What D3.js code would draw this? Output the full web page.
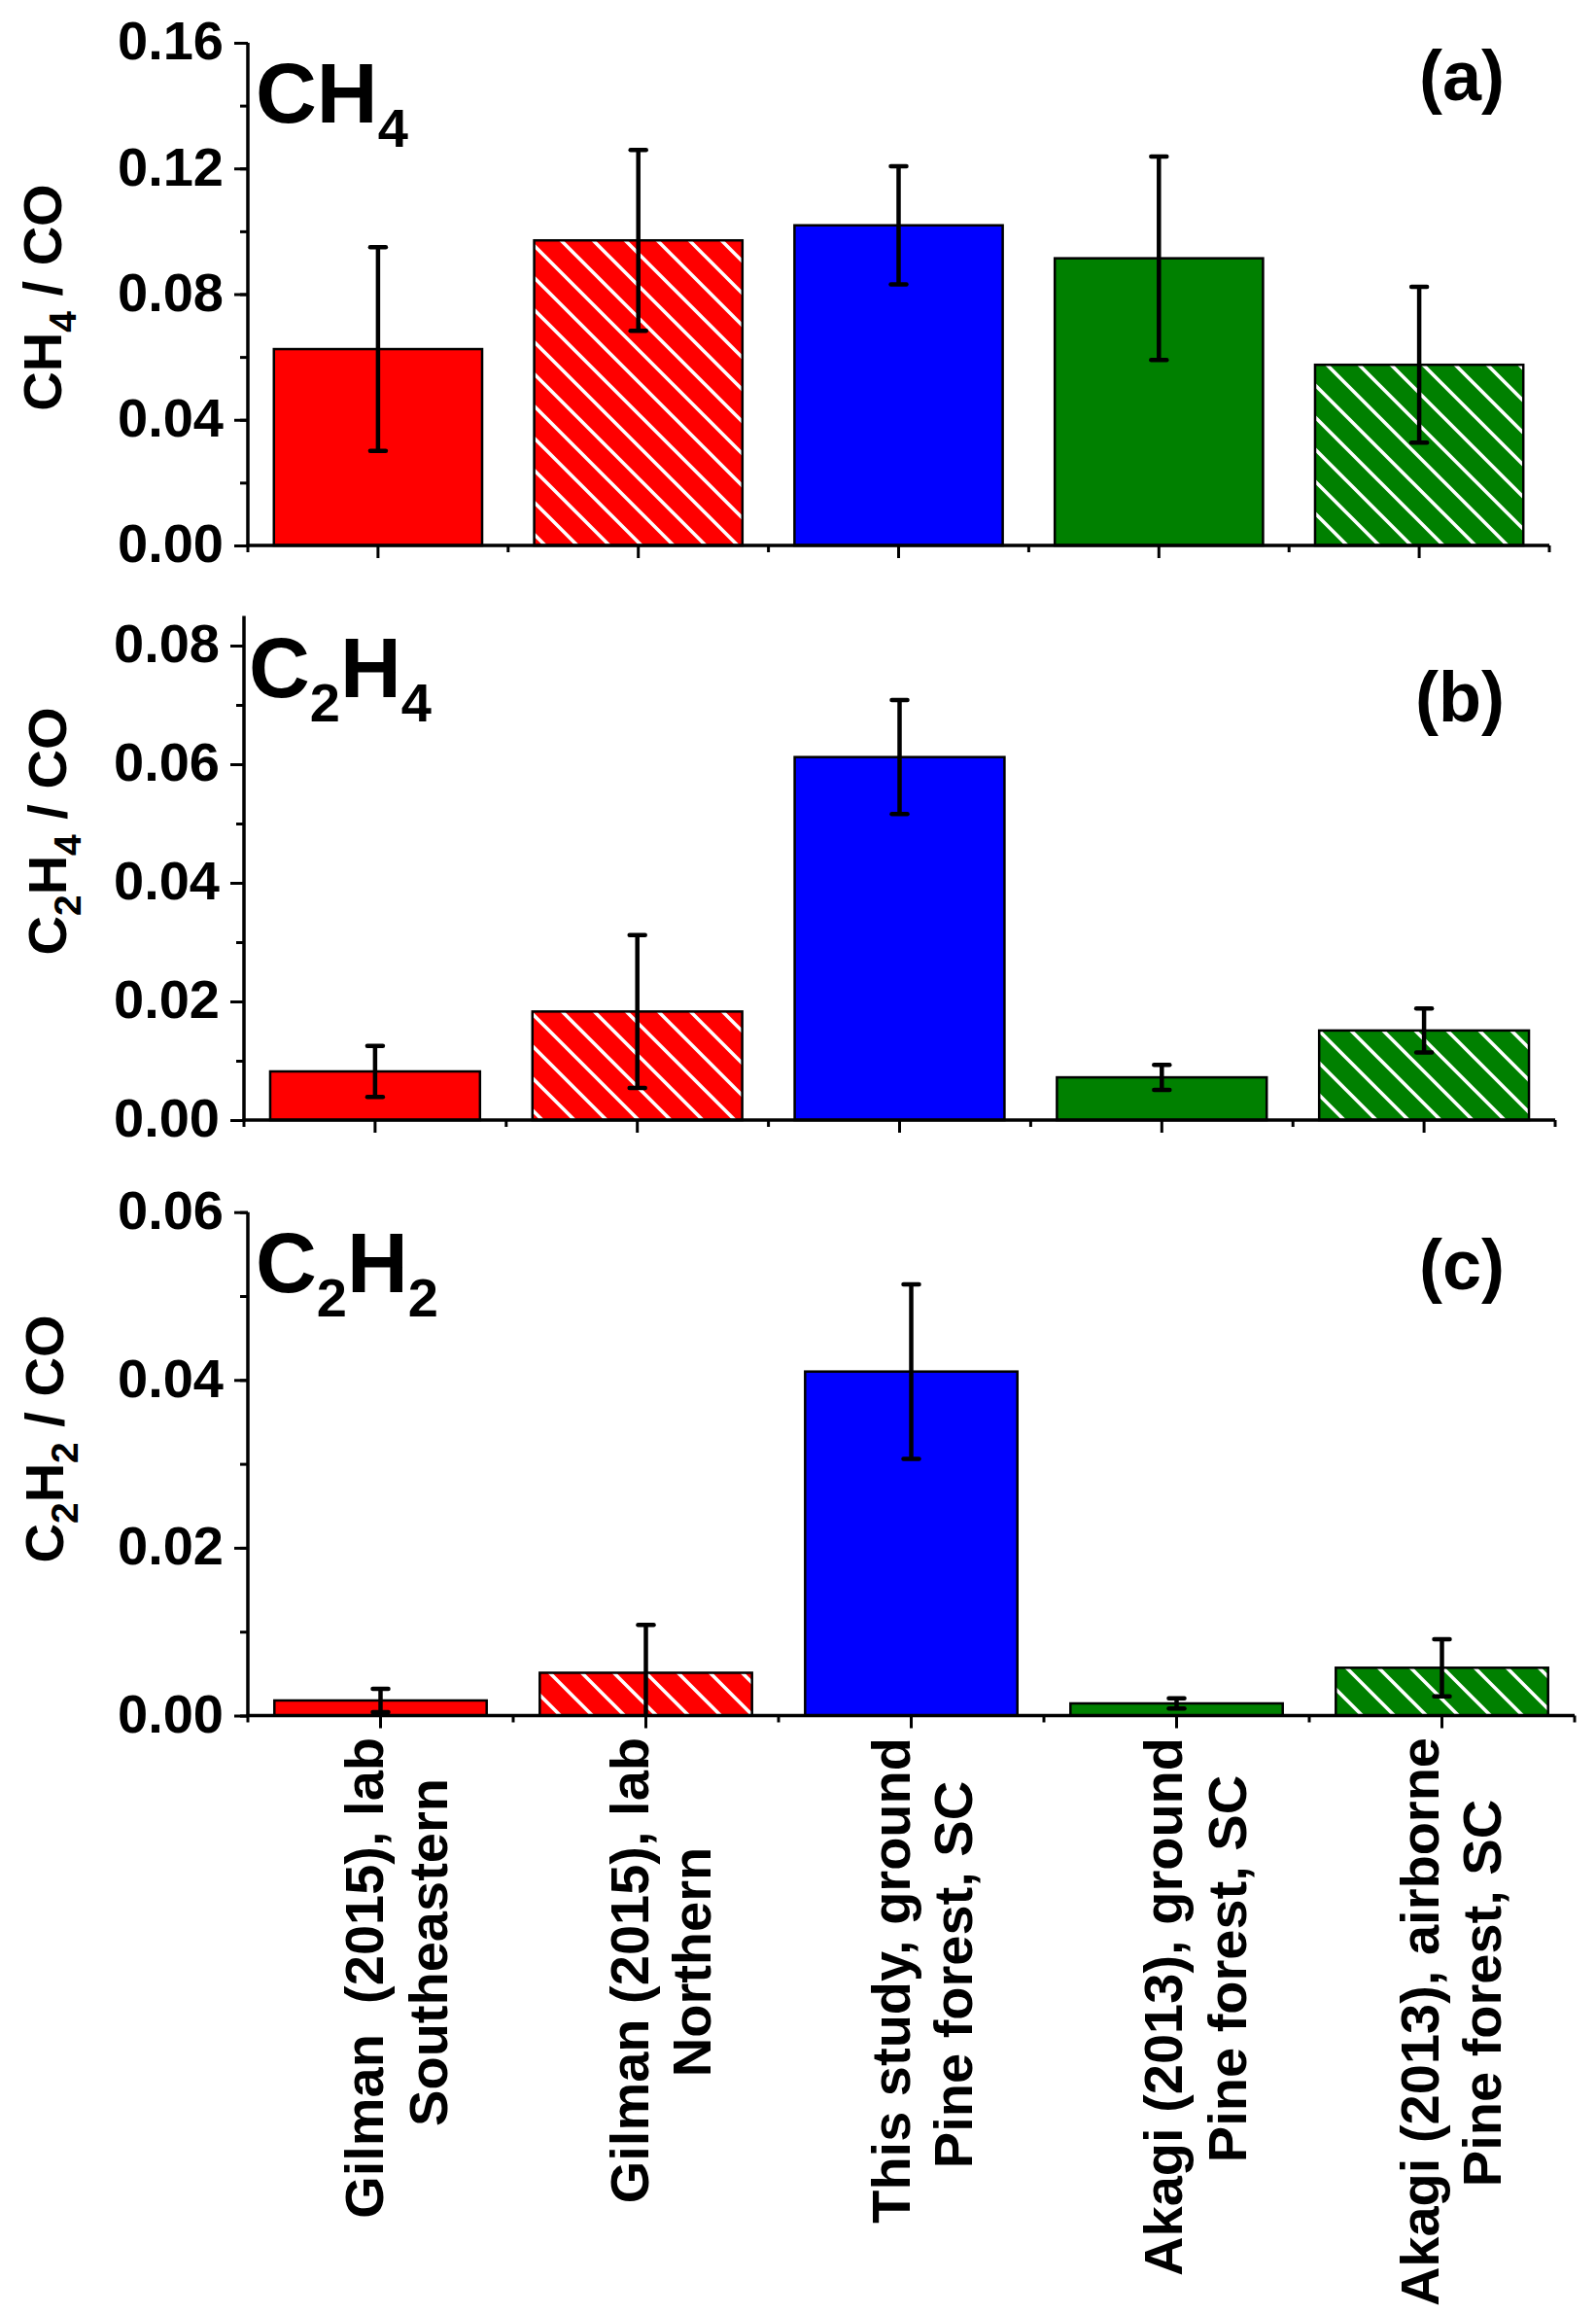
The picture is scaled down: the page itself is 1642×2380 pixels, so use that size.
<!DOCTYPE html>
<html>
<head>
<meta charset="utf-8">
<script src="https://cdn.jsdelivr.net/npm/d3@7"></script>
<style>
  body { margin: 0; background: #ffffff; }
  svg { display: block; }
  text { font-family: "Liberation Sans", Arial, sans-serif; font-weight: bold; fill: #000; white-space: pre; }
</style>
</head>
<body>
<svg id="chart" width="1642" height="2380"></svg>
<script>
// ---- data ----
var sources = [
  ["Gilman  (2015), lab", "Southeastern"],
  ["Gilman (2015), lab", "Northern"],
  ["This study, ground", "Pine forest, SC"],
  ["Akagi (2013), ground", "Pine forest, SC"],
  ["Akagi (2013), airborne", "Pine forest, SC"]
];
var barColors = ["#ff0000", "#ff0000", "#0000ff", "#008000", "#008000"];
var barHatched = [false, true, false, false, true];

var ch4Values = [0.0625, 0.0971, 0.1019, 0.0914, 0.0575];
var ch4Errors = [0.0324, 0.0288, 0.0188, 0.0324, 0.0248];

var c2h4Values = [0.0082, 0.0183, 0.0612, 0.0072, 0.0151];
var c2h4Errors = [0.0043, 0.0129, 0.0096, 0.0021, 0.0037];

var c2h2Values = [0.0018, 0.0051, 0.0410, 0.00145, 0.0057];
var c2h2Errors = [0.0014, 0.0057, 0.0104, 0.0006, 0.0034];

var ch4Ticks = [0, 0.04, 0.08, 0.12, 0.16];
var c2h4Ticks = [0, 0.02, 0.04, 0.06, 0.08];
var c2h2Ticks = [0, 0.02, 0.04, 0.06];

// placement of the two label lines under each bar (pixels, from the figure)
var line1Dx = [2, 2, -2, 5, -4];
var line2Dx = [68, 66, 62, 71, 60];
var line2Mid = [2008, 2018, 2031, 2025, 2050];

// ---- layout of the three panels ----
var panels = [
  {values: ch4Values, errors: ch4Errors, ticks: ch4Ticks, minorStep: 0.02, yMax: 0.16,
   x0: 255, x1: 1594, yBottom: 561, yTop: 44,
   title: [["C", 0], ["H", 0], ["4", 1]], titleX: 263, titleY: 126,
   ylab: [["CH", 0], ["4", 1], [" / CO", 0]], ylabX: 63, ylabY: 306,
   tag: "(a)", tagY: 103},
  {values: c2h4Values, errors: c2h4Errors, ticks: c2h4Ticks, minorStep: 0.01, yMax: 0.085,
   x0: 251, x1: 1600, yBottom: 1152, yTop: 633.5,
   title: [["C", 0], ["2", 1], ["H", 0], ["4", 1]], titleX: 256, titleY: 717,
   ylab: [["C", 0], ["2", 1], ["H", 0], ["4", 1], [" / CO", 0]], ylabX: 68, ylabY: 855,
   tag: "(b)", tagY: 742},
  {values: c2h2Values, errors: c2h2Errors, ticks: c2h2Ticks, minorStep: 0.01, yMax: 0.06,
   x0: 255, x1: 1620, yBottom: 1764.5, yTop: 1246.7,
   title: [["C", 0], ["2", 1], ["H", 0], ["2", 1]], titleX: 263, titleY: 1329,
   ylab: [["C", 0], ["2", 1], ["H", 0], ["2", 1], [" / CO", 0]], ylabX: 65, ylabY: 1480,
   tag: "(c)", tagY: 1326}
];

var svg = d3.select("#chart");
svg.append("rect").attr("width", 1642).attr("height", 2380).attr("fill", "#fff");

// hatch patterns (white diagonal lines)
var defs = svg.append("defs");
["red", "green"].forEach(function(name, i) {
  var col = i == 0 ? "#ff0000" : "#008000";
  var p = defs.append("pattern")
    .attr("id", "hatch-" + name)
    .attr("patternUnits", "userSpaceOnUse")
    .attr("width", 33).attr("height", 33);
  p.append("rect").attr("width", 33).attr("height", 33).attr("fill", col);
  p.append("path")
    .attr("d", "M-8,-8 L41,41 M-8,25 L8,41 M25,-8 L41,8")
    .attr("stroke", "#fff").attr("stroke-width", 3.6);
});

function barFill(i)
{
  if (!barHatched[i]) return barColors[i];
  return barColors[i] == "#ff0000" ? "url(#hatch-red)" : "url(#hatch-green)";
}

function addRuns(textSel, runs, subShift, subSize)
{
  var shifted = 0;
  runs.forEach(function(r) {
    var t = textSel.append("tspan").text(r[0]);
    var want = r[1] ? subShift : 0;
    if (want != shifted) { t.attr("dy", want - shifted); shifted = want; }
    if (r[1]) t.style("font-size", subSize + "px");
  });
}

var lastX;

panels.forEach(function(pn)
{
  var x = d3.scaleBand()
    .domain(d3.range(sources.length))
    .range([pn.x0, pn.x1])
    .paddingInner(0.2)
    .paddingOuter(0.1);
  var y = d3.scaleLinear().domain([0, pn.yMax]).range([pn.yBottom, pn.yTop]);
  lastX = x;

  var g = svg.append("g");

  // bars
  g.selectAll(".bar")
    .data(pn.values)
    .enter()
    .append("rect")
      .attr("class", "bar")
      .attr("x", function(d, i) {return x(i);})
      .attr("width", x.bandwidth())
      .attr("y", function(d) {return y(d);})
      .attr("height", function(d) {return y(0) - y(d);})
      .attr("fill", function(d, i) {return barFill(i);})
      .attr("stroke", "#000")
      .attr("stroke-width", 2.5);

  // error bars
  var eb = g.selectAll(".err")
    .data(pn.values)
    .enter()
    .append("g")
      .attr("class", "err")
      .attr("transform", function(d, i) {return "translate(" + (x(i) + x.bandwidth() / 2) + ",0)";});
  eb.append("line")
    .attr("y1", function(d, i) {return y(d + pn.errors[i]);})
    .attr("y2", function(d, i) {return y(Math.max(d - pn.errors[i], 0));})
    .attr("stroke", "#000").attr("stroke-width", 4.5);
  eb.append("line")
    .attr("x1", -8).attr("x2", 8)
    .attr("y1", function(d, i) {return y(d + pn.errors[i]);})
    .attr("y2", function(d, i) {return y(d + pn.errors[i]);})
    .attr("stroke", "#000").attr("stroke-width", 4.5).attr("stroke-linecap", "round");
  eb.append("line")
    .attr("x1", -8).attr("x2", 8)
    .attr("y1", function(d, i) {return y(d - pn.errors[i]);})
    .attr("y2", function(d, i) {return y(d - pn.errors[i]);})
    .attr("stroke", "#000").attr("stroke-width", 4.5).attr("stroke-linecap", "round")
    .style("display", function(d, i) {return d - pn.errors[i] < 0 ? "none" : null;});

  // y axis: minor ticks, then major ticks with labels
  var minor = d3.range(0, pn.yMax + 1e-9, pn.minorStep);
  var yMinor = g.append("g")
    .attr("transform", "translate(" + pn.x0 + ",0)")
    .call(d3.axisLeft(y).tickValues(minor).tickSize(8).tickSizeOuter(0).tickFormat(""));
  yMinor.select(".domain").remove();
  var yAxis = g.append("g")
    .attr("transform", "translate(" + pn.x0 + ",0)")
    .call(d3.axisLeft(y).tickValues(pn.ticks).tickSize(14).tickSizeOuter(0)
      .tickPadding(11).tickFormat(d3.format(".2f")));
  yAxis.select(".domain").remove();
  g.selectAll(".tick line").attr("stroke", "#000").attr("stroke-width", 3);
  yAxis.selectAll(".tick text")
    .style("font-size", "56px")
    .style("font-family", "'Liberation Sans', Arial, sans-serif")
    .style("font-weight", "bold")
    .attr("dy", "0.3em");
  g.append("line")
    .attr("x1", pn.x0).attr("x2", pn.x0)
    .attr("y1", y(0) + 1.5).attr("y2", y(pn.yMax))
    .attr("stroke", "#000").attr("stroke-width", 3.5);

  // x axis
  var edges = d3.range(sources.length + 1).map(function(k) {return pn.x0 + k * x.step();});
  var xAxis = g.append("g")
    .attr("transform", "translate(0," + y(0) + ")")
    .call(d3.axisBottom(x).tickSize(13).tickSizeOuter(0).tickFormat(""));
  xAxis.select(".domain").remove();
  xAxis.selectAll(".tick line").attr("stroke", "#000").attr("stroke-width", 3);
  g.selectAll(".xminor")
    .data(edges)
    .enter()
    .append("line")
      .attr("x1", function(d) {return d;}).attr("x2", function(d) {return d;})
      .attr("y1", y(0)).attr("y2", y(0) + 7)
      .attr("stroke", "#000").attr("stroke-width", 3);
  g.append("line")
    .attr("x1", pn.x0 - 1.5).attr("x2", pn.x1)
    .attr("y1", y(0)).attr("y2", y(0))
    .attr("stroke", "#000").attr("stroke-width", 3.5);

  // y axis title
  var yl = g.append("text")
    .attr("transform", "translate(" + pn.ylabX + "," + pn.ylabY + ") rotate(-90)")
    .attr("text-anchor", "middle")
    .style("font-size", "56px");
  addRuns(yl, pn.ylab, 15, 39);

  // panel title
  var tt = g.append("text")
    .attr("x", pn.titleX).attr("y", pn.titleY)
    .style("font-size", "87px");
  addRuns(tt, pn.title, 25, 56);

  // panel tag
  g.append("text")
    .attr("x", 1548).attr("y", pn.tagY)
    .attr("text-anchor", "end")
    .style("font-size", "72px")
    .text(pn.tag);
});

// category labels under the bottom panel
var cats = svg.selectAll(".cat")
  .data(sources)
  .enter()
  .append("g")
    .attr("class", "cat");
cats.append("text")
  .attr("text-anchor", "end")
  .attr("transform", function(d, i) {
    return "translate(" + (lastX(i) + lastX.bandwidth() / 2 + line1Dx[i]) + ",1787) rotate(-90)";
  })
  .style("font-size", "56px")
  .text(function(d) {return d[0];});
cats.append("text")
  .attr("text-anchor", "middle")
  .attr("transform", function(d, i) {
    return "translate(" + (lastX(i) + lastX.bandwidth() / 2 + line2Dx[i]) + "," + line2Mid[i] + ") rotate(-90)";
  })
  .style("font-size", "56px")
  .text(function(d) {return d[1];});
</script>
</body>
</html>
